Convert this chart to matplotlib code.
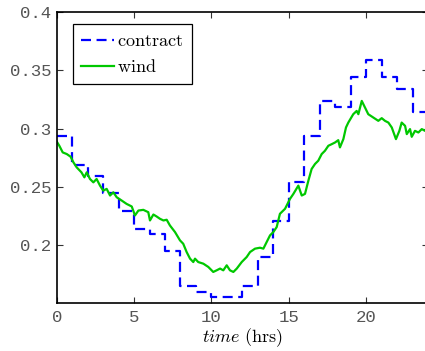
import matplotlib
matplotlib.use('Agg')
import matplotlib.pyplot as plt
import numpy as np

plt.rcParams['mathtext.fontset'] = 'cm'

# hourly contract levels (step per hour, 0..23)
contract_hours = np.arange(25)
contract = [0.294, 0.269, 0.259, 0.2444, 0.229, 0.2138, 0.2096, 0.1952,
            0.1647, 0.1599, 0.1551, 0.1551, 0.1647, 0.1897, 0.2208, 0.2543,
            0.2938, 0.324, 0.3188, 0.344, 0.359, 0.344, 0.3337, 0.314]

wind_hours = [0.0, 0.17, 0.39, 0.65, 0.9, 1.08, 1.29, 1.6, 1.79, 1.94, 2.15,
              2.37, 2.58, 2.8, 3.01, 3.23, 3.45, 3.66, 3.88, 4.2, 4.52, 4.85,
              5.06, 5.28, 5.6, 5.92, 6.03, 6.25, 6.46, 6.68, 6.9, 7.11, 7.32,
              7.65, 7.97, 8.18, 8.4, 8.62, 8.83, 8.94, 9.15, 9.48, 9.8, 10.12,
              10.34, 10.56, 10.77, 10.99, 11.2, 11.42, 11.64, 11.96, 12.28,
              12.5, 12.82, 13.14, 13.36, 13.57, 13.79, 14.0, 14.22, 14.43,
              14.76, 15.08, 15.3, 15.62, 15.84, 16.05, 16.27, 16.48, 16.7,
              16.91, 17.13, 17.34, 17.56, 17.78, 17.99, 18.2, 18.31, 18.53,
              18.7, 18.85, 19.17, 19.39, 19.5, 19.72, 19.93, 20.14, 20.47,
              20.79, 21.01, 21.22, 21.44, 21.66, 21.93, 22.15, 22.3, 22.52,
              22.63, 22.84, 22.95, 23.16, 23.38, 23.6, 23.81, 24.0]
wind = [0.2889, 0.2852, 0.2795, 0.2781, 0.2758, 0.271, 0.2667, 0.2624, 0.2581,
        0.2624, 0.2567, 0.2538, 0.2567, 0.251, 0.2467, 0.2482, 0.2425, 0.2453,
        0.241, 0.2382, 0.2353, 0.2331, 0.2254, 0.2296, 0.2302, 0.2282, 0.2211,
        0.2262, 0.2245, 0.2225, 0.2211, 0.2217, 0.2168, 0.2111, 0.204, 0.2011,
        0.194, 0.1883, 0.1854, 0.1883, 0.1854, 0.184, 0.1812, 0.1769, 0.1783,
        0.1798, 0.1783, 0.1826, 0.1783, 0.1769, 0.1798, 0.1854, 0.1897, 0.194,
        0.1969, 0.1977, 0.1969, 0.2025, 0.2083, 0.2111, 0.2154, 0.2268, 0.2311,
        0.2396, 0.2439, 0.251, 0.2425, 0.2439, 0.2553, 0.2653, 0.2696, 0.2724,
        0.2781, 0.2809, 0.2852, 0.2866, 0.288, 0.29, 0.2838, 0.2909, 0.3009,
        0.3051, 0.3123, 0.3151, 0.3123, 0.3237, 0.318, 0.3123, 0.3094, 0.3066,
        0.3089, 0.3066, 0.3051, 0.3009, 0.2909, 0.298, 0.3051, 0.3023, 0.2952,
        0.2995, 0.2929, 0.298, 0.2966, 0.2995, 0.298, 0.2995]

xticks = [0, 5, 10, 15, 20]
yticks = [0.2, 0.25, 0.3, 0.35, 0.4]
ytick_labels = ['0.2', '0.25', '0.3', '0.35', '0.4']

fig = plt.figure(figsize=(4.25, 3.51), dpi=100)
ax = fig.add_axes([0.1334, 0.1359, 0.8736, 0.8299])

ax.step(contract_hours, contract + [contract[-1]], where='post',
        color='#0000ff', lw=1.6, dashes=(4.5, 2.5), label=r'$\mathrm{contract}$')
ax.plot(wind_hours, wind, color='#00c800', lw=1.6, label=r'$\mathrm{wind}$')

ax.set_xlim(0, 24)
ax.set_ylim(0.15, 0.4)
ax.set_xticks(xticks)
ax.set_yticks(yticks)
ax.set_yticklabels(ytick_labels)

for lab in ax.get_xticklabels() + ax.get_yticklabels():
    lab.set_family('Liberation Mono')
    lab.set_fontsize(12.5)
    lab.set_color('#555555')

ax.tick_params(direction='in', length=4, width=0.8, top=True, right=True,
               color='#333333')
ax.tick_params(axis='x', pad=5)
ax.tick_params(axis='y', pad=4)
for sp in ax.spines.values():
    sp.set_linewidth(1.2)

ax.set_xlabel(r'$\mathit{time}\ \mathrm{(hrs)}$', fontsize=13, labelpad=1)

leg = ax.legend(loc='upper left', bbox_to_anchor=(0.044, 0.959),
                fontsize=13, frameon=True, fancybox=False, framealpha=1,
                edgecolor='black', handlelength=1.8, handletextpad=0.2,
                borderpad=0.45, labelspacing=0.45, borderaxespad=0)
leg.get_frame().set_linewidth(0.9)

fig.savefig('out.png', dpi=100)
